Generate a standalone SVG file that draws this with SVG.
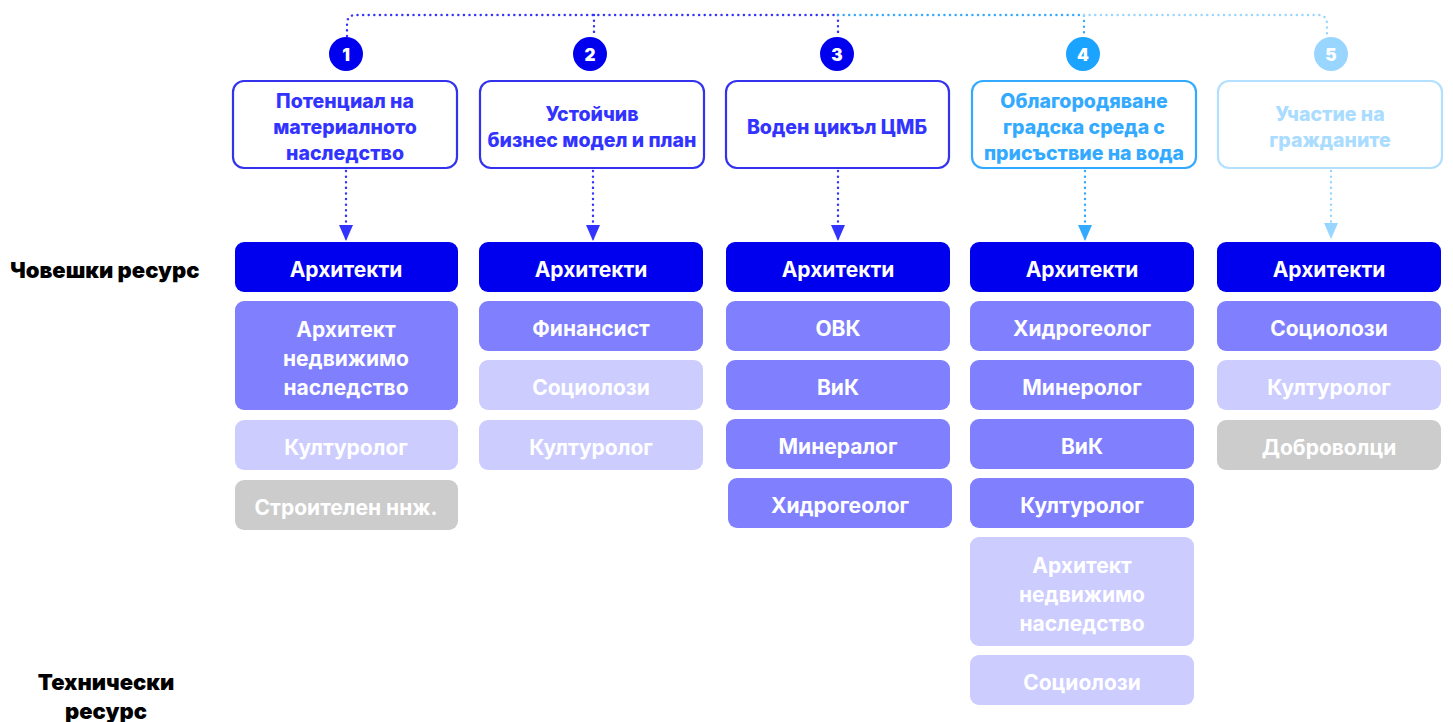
<svg xmlns="http://www.w3.org/2000/svg" width="1453" height="722" viewBox="0 0 1453 722">
<defs>
<style>
.hd{fill:#fff;stroke-width:2.2}
.ht{font-family:"Inter","Liberation Sans",sans-serif;font-weight:800;font-size:19.5px;text-anchor:middle}
.rt{font-family:"Inter","Liberation Sans",sans-serif;font-weight:700;font-size:21px;fill:#fff;text-anchor:middle;dominant-baseline:central}
.lab{font-family:"Inter","Liberation Sans",sans-serif;font-weight:900;font-size:22px;fill:#000}
.num{font-family:"Inter","Liberation Sans",sans-serif;font-weight:900;font-size:17px;fill:#fff;text-anchor:middle;dominant-baseline:central}
.dk{fill:#0000ee}.md{fill:#8080ff}.lt{fill:#ccccff}.gr{fill:#cccccc}
.dot{fill:none;stroke-width:2.4;stroke-dasharray:0.1 5.5;stroke-linecap:round}
</style>
<marker id="a1" markerWidth="16" markerHeight="14" refX="15" refY="7" orient="auto" markerUnits="userSpaceOnUse" viewBox="0 0 16 14"><path d="M0,0 L16,7 L0,14 Z" fill="#3333ff"/></marker>
<marker id="a4" markerWidth="16" markerHeight="14" refX="15" refY="7" orient="auto" markerUnits="userSpaceOnUse" viewBox="0 0 16 14"><path d="M0,0 L16,7 L0,14 Z" fill="#33aaff"/></marker>
<marker id="a5" markerWidth="16" markerHeight="14" refX="15" refY="7" orient="auto" markerUnits="userSpaceOnUse" viewBox="0 0 16 14"><path d="M0,0 L16,7 L0,14 Z" fill="#99d6ff"/></marker>
</defs>

<g id="connectors">
<path class="dot" stroke="#3333ff" d="M347,36 L347,24 Q347,15 356,15 L838,15"/>
<path class="dot" stroke="#3333ff" d="M594,15 L594,36"/>
<path class="dot" stroke="#3333ff" d="M838,15 L838,36"/>
<path class="dot" stroke="#33aaff" d="M838,15 L1084,15 L1084,36"/>
<path class="dot" stroke="#99d6ff" d="M1084,15 L1318,15 Q1327,15 1327,24 L1327,36"/>
<path class="dot" stroke="#3333ff" d="M346,171 L346,240" marker-end="url(#a1)"/>
<path class="dot" stroke="#3333ff" d="M593,171 L593,240" marker-end="url(#a1)"/>
<path class="dot" stroke="#3333ff" d="M838,171 L838,240" marker-end="url(#a1)"/>
<path class="dot" stroke="#33aaff" d="M1085,171 L1085,240" marker-end="url(#a4)"/>
<path class="dot" stroke="#99d6ff" d="M1331,171 L1331,238" marker-end="url(#a5)"/>
</g>

<g id="labels">
<text class="lab" x="10" y="278">Човешки ресурс</text>
<text class="lab" x="106" y="690" text-anchor="middle">Технически</text>
<text class="lab" x="106" y="719" text-anchor="middle">ресурс</text>
</g>

<g id="col1">
<circle cx="346" cy="54" r="17" fill="#0000ee"/><text class="num" x="346" y="55">1</text>
<rect class="hd" x="233" y="81" width="224" height="87" rx="11" stroke="#3333ee"/>
<text class="ht" fill="#3333ff"><tspan x="345" y="108">Потенциал на</tspan><tspan x="345" y="134">материалното</tspan><tspan x="345" y="160">наследство</tspan></text>
<rect class="dk" x="235" y="242" width="223" height="50" rx="9"/><text class="rt" x="346" y="269">Архитекти</text>
<rect class="md" x="235" y="301" width="223" height="109" rx="9"/><text class="rt"><tspan x="346" y="329">Архитект</tspan><tspan x="346" y="358">недвижимо</tspan><tspan x="346" y="387">наследство</tspan></text>
<rect class="lt" x="235" y="420" width="223" height="50" rx="9"/><text class="rt" x="346" y="447">Културолог</text>
<rect class="gr" x="235" y="480" width="223" height="50" rx="9"/><text class="rt" x="346" y="507">Строителен ннж.</text>
</g>

<g id="col2">
<circle cx="590" cy="54" r="17" fill="#0000ee"/><text class="num" x="590" y="55">2</text>
<rect class="hd" x="480" y="81" width="224" height="87" rx="11" stroke="#3333ee"/>
<text class="ht" fill="#3333ff"><tspan x="592" y="121">Устойчив</tspan><tspan x="592" y="147">бизнес модел и план</tspan></text>
<rect class="dk" x="479" y="242" width="224" height="50" rx="9"/><text class="rt" x="591" y="269">Архитекти</text>
<rect class="md" x="479" y="301" width="224" height="50" rx="9"/><text class="rt" x="591" y="328">Финансист</text>
<rect class="lt" x="479" y="360" width="224" height="50" rx="9"/><text class="rt" x="591" y="387">Социолози</text>
<rect class="lt" x="479" y="420" width="224" height="50" rx="9"/><text class="rt" x="591" y="447">Културолог</text>
</g>

<g id="col3">
<circle cx="837" cy="54" r="17" fill="#0000ee"/><text class="num" x="837" y="55">3</text>
<rect class="hd" x="726" y="81" width="223" height="87" rx="11" stroke="#3333ee"/>
<text class="ht" fill="#3333ff" x="837" y="134">Воден цикъл ЦМБ</text>
<rect class="dk" x="726" y="242" width="224" height="50" rx="9"/><text class="rt" x="838" y="269">Архитекти</text>
<rect class="md" x="726" y="301" width="224" height="50" rx="9"/><text class="rt" x="838" y="328">ОВК</text>
<rect class="md" x="726" y="360" width="224" height="50" rx="9"/><text class="rt" x="838" y="387">ВиК</text>
<rect class="md" x="726" y="419" width="224" height="50" rx="9"/><text class="rt" x="838" y="446">Минералог</text>
<rect class="md" x="728" y="478" width="224" height="50" rx="9"/><text class="rt" x="840" y="505">Хидрогеолог</text>
</g>

<g id="col4">
<circle cx="1083" cy="54" r="17" fill="#1aa3ff"/><text class="num" x="1083" y="55">4</text>
<rect class="hd" x="972" y="81" width="224" height="87" rx="11" stroke="#33aaff"/>
<text class="ht" fill="#33aaff"><tspan x="1084" y="108">Облагородяване</tspan><tspan x="1084" y="134">градска среда с</tspan><tspan x="1084" y="160">присъствие на вода</tspan></text>
<rect class="dk" x="970" y="242" width="224" height="50" rx="9"/><text class="rt" x="1082" y="269">Архитекти</text>
<rect class="md" x="970" y="301" width="224" height="50" rx="9"/><text class="rt" x="1082" y="328">Хидрогеолог</text>
<rect class="md" x="970" y="360" width="224" height="50" rx="9"/><text class="rt" x="1082" y="387">Минеролог</text>
<rect class="md" x="970" y="419" width="224" height="50" rx="9"/><text class="rt" x="1082" y="446">ВиК</text>
<rect class="md" x="970" y="478" width="224" height="50" rx="9"/><text class="rt" x="1082" y="505">Културолог</text>
<rect class="lt" x="970" y="537" width="224" height="109" rx="9"/><text class="rt"><tspan x="1082" y="565">Архитект</tspan><tspan x="1082" y="594">недвижимо</tspan><tspan x="1082" y="623">наследство</tspan></text>
<rect class="lt" x="970" y="655" width="224" height="50" rx="9"/><text class="rt" x="1082" y="682">Социолози</text>
</g>

<g id="col5">
<circle cx="1331" cy="54" r="17" fill="#99d6ff"/><text class="num" x="1331" y="55">5</text>
<rect class="hd" x="1218" y="81" width="224" height="87" rx="11" stroke="#b3e0ff"/>
<text class="ht" fill="#aadcff"><tspan x="1330" y="121">Участие на</tspan><tspan x="1330" y="147">гражданите</tspan></text>
<rect class="dk" x="1217" y="242" width="224" height="50" rx="9"/><text class="rt" x="1329" y="269">Архитекти</text>
<rect class="md" x="1217" y="301" width="224" height="50" rx="9"/><text class="rt" x="1329" y="328">Социолози</text>
<rect class="lt" x="1217" y="360" width="224" height="50" rx="9"/><text class="rt" x="1329" y="387">Културолог</text>
<rect class="gr" x="1217" y="420" width="224" height="50" rx="9"/><text class="rt" x="1329" y="447">Доброволци</text>
</g>
</svg>
